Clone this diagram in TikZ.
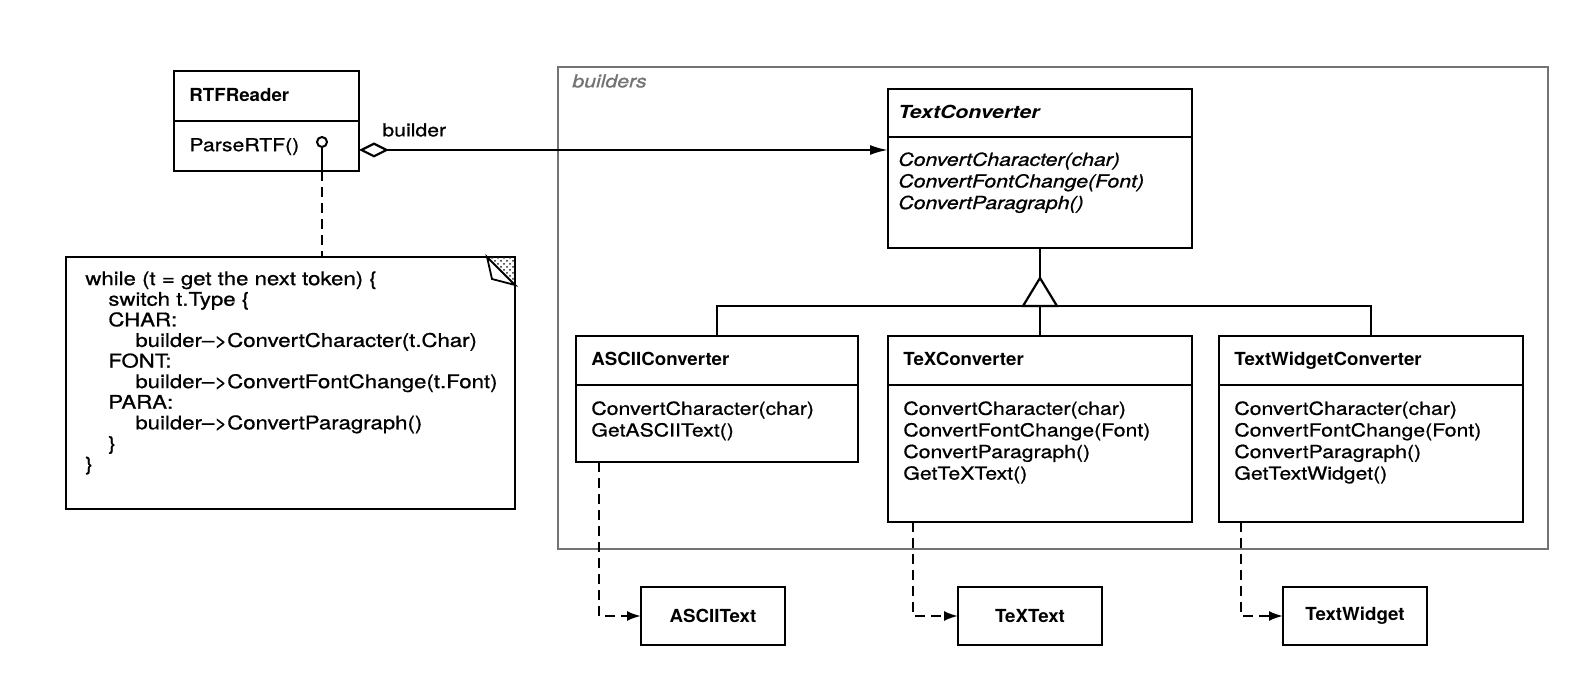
\documentclass[tikz,border=0pt]{standalone}
\usepackage{fontspec}
\setmainfont{TeX Gyre Heros}[
  UprightFeatures={FakeStretch=1.18, FakeBold=0.8},
  ItalicFeatures={FakeStretch=1.18, FakeBold=0.8},
  BoldFeatures={FakeStretch=1.04},
  BoldItalicFeatures={FakeStretch=1.18}]
\usetikzlibrary{arrows.meta,calc,patterns}

\newcommand\umlfont{\fontsize{9}{10.8}\selectfont}
\newcommand\notefont{\fontsize{9.4}{10.3}\selectfont}

\begin{document}
\begin{tikzpicture}[x=0.5pt,y=-0.5pt,
  box/.style={draw, line width=1.35pt, inner sep=0pt, outer sep=0pt, anchor=north west, fill=white},
  nametext/.style={inner sep=0pt, anchor=west, font=\umlfont\bfseries, text height=7pt, text depth=1.8pt},
  opstext/.style={inner sep=0pt, anchor=north west, align=left, font=\umlfont},
  thin/.style={line width=1.1pt},
  dep/.style={line width=1.1pt, dash pattern=on 5pt off 3pt, -{Latex[length=7pt,width=5pt]}},
  pkgframe/.style={draw=black!55, line width=1.2pt, inner sep=0pt, anchor=north west},
]
\useasboundingbox (0,0) rectangle (1596,684);

% package frame
\node[pkgframe, minimum width=495pt, minimum height=241pt] (pkg) at (557,66) {};
\node[anchor=west, inner sep=0pt, font=\umlfont\itshape, text=black!55] (pkglabel) at (572,81) {builders};

% RTFReader
\node[box, minimum width=92.5pt, minimum height=25pt] (rtf) at (174,71) {};
\node[nametext] (rtfname) at ($(rtf.west)+(15,0)$) {RTFReader};
\node[box, minimum width=92.5pt, minimum height=25pt] (rtfm) at (rtf.south west) {};
\node[nametext, font=\umlfont] (rtfop) at ($(rtfm.west)+(15,0)$) {ParseRTF()};

% TextConverter
\node[box, minimum width=152pt, minimum height=24pt] (tc) at (888,89) {};
\node[nametext, font=\umlfont\bfseries\itshape] (tcname) at ($(tc.west)+(10,0)$) {TextConverter};
\node[box, minimum width=152pt, minimum height=55.5pt] (tcm) at (tc.south west) {};
\node[opstext, font=\umlfont\itshape] (tcops) at ($(tcm.north west)+(10,15)$)
  {ConvertCharacter(char)\\ConvertFontChange(Font)\\ConvertParagraph()};

% ASCIIConverter
\node[box, minimum width=141pt, minimum height=24.5pt] (asc) at (576,336) {};
\node[nametext] (ascname) at ($(asc.west)+(15,0)$) {ASCIIConverter};
\node[box, minimum width=141pt, minimum height=38.5pt] (ascm) at (asc.south west) {};
\node[opstext] (ascops) at ($(ascm.north west)+(15,16)$)
  {ConvertCharacter(char)\\GetASCIIText()};

% TeXConverter
\node[box, minimum width=152pt, minimum height=24.5pt] (tex) at (888,336) {};
\node[nametext] (texname) at ($(tex.west)+(15,0)$) {TeXConverter};
\node[box, minimum width=152pt, minimum height=68.5pt] (texm) at (tex.south west) {};
\node[opstext] (texops) at ($(texm.north west)+(15,16)$)
  {ConvertCharacter(char)\\ConvertFontChange(Font)\\ConvertParagraph()\\GetTeXText()};

% TextWidgetConverter
\node[box, minimum width=152pt, minimum height=24.5pt] (twc) at (1219,336) {};
\node[nametext] (twcname) at ($(twc.west)+(15,0)$) {TextWidgetConverter};
\node[box, minimum width=152pt, minimum height=68.5pt] (twcm) at (twc.south west) {};
\node[opstext] (twcops) at ($(twcm.north west)+(15,16)$)
  {ConvertCharacter(char)\\ConvertFontChange(Font)\\ConvertParagraph()\\GetTextWidget()};

% products
\node[box, minimum width=72pt, minimum height=29pt, font=\umlfont\bfseries] (asciitext) at (641,587) {ASCIIText};
\node[box, minimum width=72pt, minimum height=29pt, font=\umlfont\bfseries] (textext) at (958,587) {TeXText};
\node[box, minimum width=72pt, minimum height=29pt, font=\umlfont\bfseries] (twtext) at (1283,587) {TextWidget};

% note with folded corner
\node[box, minimum width=224.5pt, minimum height=126pt] (note) at (66,257) {};
\fill[pattern=crosshatch dots, pattern color=black!85] (note.north east) -- ++(-28,0) -- ++(28,28) -- cycle;
\draw[line width=0.9pt, fill=white] ($(note.north east)+(-28,0)$) -- ($(note.north east)+(-23,22)$) -- ($(note.north east)+(0,28)$) -- cycle;
\node[opstext, font=\notefont] (notetext) at ($(note.north west)+(19,14)$)
  {while (t = get the next token) \{\\
   \hspace*{11.5pt}switch t.Type \{\\
   \hspace*{11.5pt}CHAR:\\
   \hspace*{25pt}builder\textendash{}>ConvertCharacter(t.Char)\\
   \hspace*{11.5pt}FONT:\\
   \hspace*{25pt}builder\textendash{}>ConvertFontChange(t.Font)\\
   \hspace*{11.5pt}PARA:\\
   \hspace*{25pt}builder\textendash{}>ConvertParagraph()\\
   \hspace*{11.5pt}\}\\
   \}};

% association RTFReader -> TextConverter
\coordinate (assocrow) at (0,150);
\draw[thin, {Diamond[fill=white, length=15pt, width=7.5pt]}-{Latex[length=9pt, width=5pt]}]
  (rtfm.east |- assocrow) -- (tcm.west |- assocrow);
\node[anchor=west, inner sep=0pt, font=\umlfont] (rolelbl) at (382,130) {builder};

% implementation hook to the note
\node[circle, draw, line width=1pt, minimum size=5pt, inner sep=0pt, fill=white] (hook) at (322,142) {};
\draw[thin] (hook.south) -- (hook.south |- rtfm.south);
\draw[thin, dash pattern=on 5pt off 3pt] (hook.south |- rtfm.south) -- (hook.south |- note.north);

% inheritance
\coordinate (apex) at ($(tcm.south)+(0,30)$);
\coordinate (bar) at ($(apex)+(0,28)$);
\draw[thin] (tcm.south) -- (apex);
\draw[thin, fill=white] (apex) -- ++(-17,28) -- ++(34,0) -- cycle;
\draw[thin] (bar) -- (tex.north);
\draw[thin] (asc.north) |- (bar -| twc.north) -- (twc.north);

% creates
\draw[dep] ([xshift=11.5pt]ascm.south west) |- (asciitext.west);
\draw[dep] ([xshift=12.5pt]texm.south west) |- (textext.west);
\draw[dep] ([xshift=11pt]twcm.south west) |- (twtext.west);
\end{tikzpicture}
\end{document}
